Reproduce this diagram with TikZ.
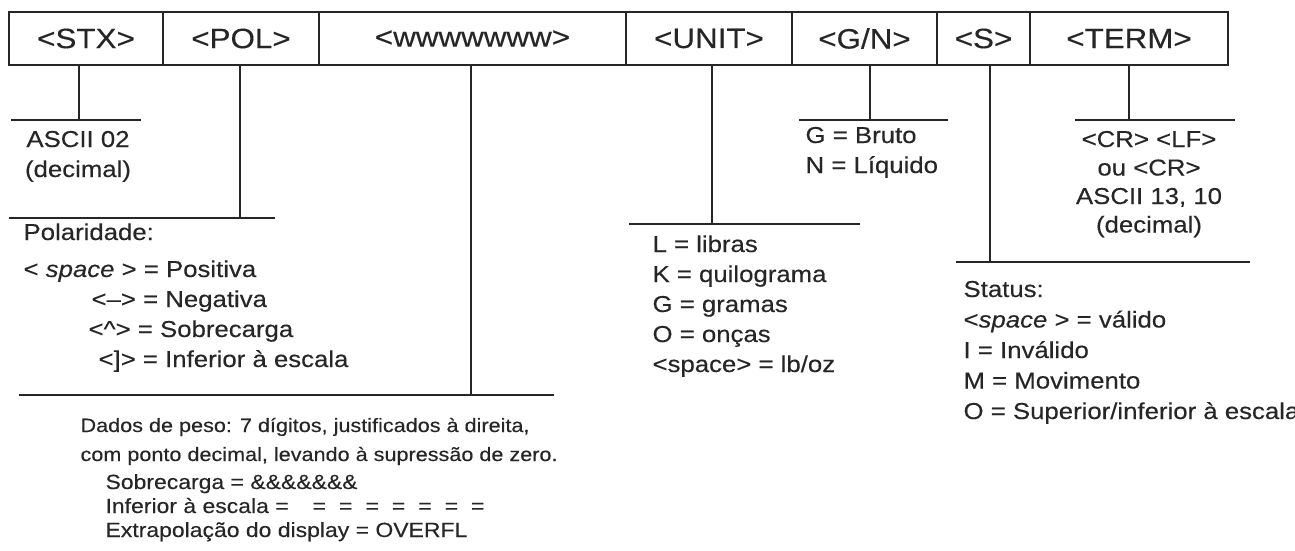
\documentclass[tikz,border=0pt]{standalone}
\usepackage{fontspec}
\setmainfont{Liberation Sans}[FakeStretch=1.12,FakeBold=0.3]
\usetikzlibrary{positioning}
\newcommand{\cellfont}{\fontsize{28}{32}\selectfont}
\newcommand{\bodyfont}{\fontsize{23}{30}\selectfont}
\newcommand{\eqgap}{\hspace{13pt}}

\begin{document}
\begin{tikzpicture}[x=1pt,y=-1pt,line width=1.1pt,color=black!85,
	cell/.style={draw,rectangle,minimum height=53pt,inner sep=0pt,outer sep=0pt,font=\cellfont},
	txt/.style={anchor=base west,inner sep=0pt,font=\bodyfont},
	ctxt/.style={anchor=base,inner sep=0pt,font=\bodyfont}]
	
	\useasboundingbox (0,0) rectangle (1295,551);
	
	\node[cell,minimum width=154pt,anchor=north west] (stx) at (9,12) {<STX>};
	\node[cell,minimum width=156pt,right=0pt of stx] (pol) {<POL>};
	\node[cell,minimum width=307pt,right=0pt of pol] (wgt) {<wwwwwww>};
	\node[cell,minimum width=166pt,right=0pt of wgt] (unit) {<UNIT>};
	\node[cell,minimum width=145pt,right=0pt of unit] (gn) {<G/N>};
	\node[cell,minimum width=93pt,right=0pt of gn] (st) {<S>};
	\node[cell,minimum width=198pt,right=0pt of st] (term) {<TERM>};
	
	\coordinate (stxtap) at (79,120);
	\coordinate (stxa) at (11,120);
	\coordinate (stxb) at (141,120);
	\coordinate (poltap) at (240,218);
	\coordinate (pola) at (9,218);
	\coordinate (polb) at (275,218);
	\coordinate (wgttap) at (471,395);
	\coordinate (wgta) at (19,395);
	\coordinate (wgtb) at (554,395);
	\coordinate (unittap) at (712,224);
	\coordinate (unita) at (629,224);
	\coordinate (unitb) at (860,224);
	\coordinate (gntap) at (870,120);
	\coordinate (gna) at (799,120);
	\coordinate (gnb) at (948,120);
	\coordinate (sttap) at (990,262);
	\coordinate (sta) at (956,262);
	\coordinate (stb) at (1250,262);
	\coordinate (termtap) at (1129,120);
	\coordinate (terma) at (1075,120);
	\coordinate (termb) at (1235,120);
	
	\draw (stx.south -| stxtap) -- (stxtap);
	\draw (stxa) -- (stxb);
	\draw (pol.south -| poltap) -- (poltap);
	\draw (pola) -- (polb);
	\draw (wgt.south -| wgttap) -- (wgttap);
	\draw (wgta) -- (wgtb);
	\draw (unit.south -| unittap) -- (unittap);
	\draw (unita) -- (unitb);
	\draw (gn.south -| gntap) -- (gntap);
	\draw (gna) -- (gnb);
	\draw (st.south -| sttap) -- (sttap);
	\draw (sta) -- (stb);
	\draw (term.south -| termtap) -- (termtap);
	\draw (terma) -- (termb);
	
	\node[ctxt] (stxtxt) at (78,147) {\begin{tabular}[t]{@{}c@{}}ASCII 02\\(decimal)\end{tabular}};
	\node[txt] (poltxt) at (23,240) {\begin{tabular}[t]{@{}l@{}}Polaridade:\\[7pt]
		< \textit{space} > = Positiva\\
		\hspace*{68pt}<–> = Negativa\\
		\hspace*{65pt}<\textasciicircum> = Sobrecarga\\
		\hspace*{75pt}<]> = Inferior à escala\end{tabular}};
	\node[txt,font=\fontsize{19.3}{29}\selectfont] (wgttxt) at (80,432) {\begin{tabular}[t]{@{}l@{}}Dados de peso: 7 dígitos, justificados à direita,\\
		com ponto decimal, levando à supressão de zero.\end{tabular}};
	\node[txt,font=\fontsize{20.5}{24}\selectfont] (wgtcodes) at (105,489) {\begin{tabular}[t]{@{}l@{}}Sobrecarga = \&\&\&\&\&\&\&\\
		Inferior à escala =\hspace{24pt}=\eqgap=\eqgap=\eqgap=\eqgap=\eqgap=\eqgap=\\
		Extrapolação do display = OVERFL\end{tabular}};
	\node[txt] (unittxt) at (652,252) {\begin{tabular}[t]{@{}l@{}}L = libras\\K = quilograma\\G = gramas\\O = onças\\<space> = lb/oz\end{tabular}};
	\node[txt] (gntxt) at (805,143) {\begin{tabular}[t]{@{}l@{}}G = Bruto\\N = Líquido\end{tabular}};
	\node[txt,font=\fontsize{23}{30.5}\selectfont] (sttxt) at (963,297) {\begin{tabular}[t]{@{}l@{}}Status:\\
		<\textit{space} > = válido\\I = Inválido\\M = Movimento\\O = Superior/inferior à escala\end{tabular}};
	\node[ctxt,font=\fontsize{23}{28.5}\selectfont] (termtxt) at (1149,147) {\begin{tabular}[t]{@{}c@{}}<CR> <LF>\\ou <CR>\\ASCII 13, 10\\(decimal)\end{tabular}};
\end{tikzpicture}
\end{document}
